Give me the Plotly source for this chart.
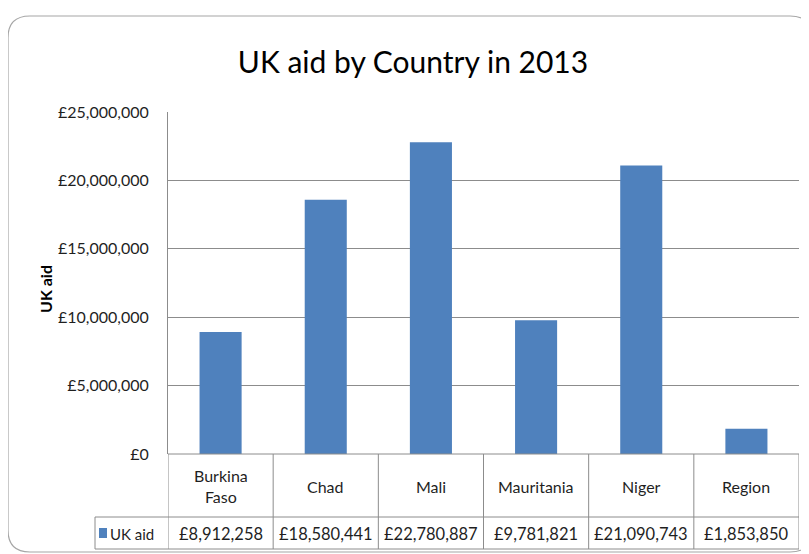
import plotly.graph_objects as go

categories = ["Burkina Faso", "Chad", "Mali", "Mauritania", "Niger", "Region"]
category_labels = ["Burkina<br>Faso", "Chad", "Mali", "Mauritania", "Niger", "Region"]
uk_aid = [8912258, 18580441, 22780887, 9781821, 21090743, 1853850]
y_ticks = [0, 5000000, 10000000, 15000000, 20000000, 25000000]
y_tick_labels = ["£0", "£5,000,000", "£10,000,000", "£15,000,000", "£20,000,000", "£25,000,000"]
series_name = "UK aid"
title_text = "UK aid by Country in 2013"

OFF = 8  # page body margin
W, H = 809 - OFF, 554 - OFF
P_LEFT, P_RIGHT, P_TOP, P_BOTTOM = 168, 799, 112, 454
ML = P_LEFT - OFF
MR = (W + OFF) - P_RIGHT
MT = P_TOP - OFF
MB = (H + OFF) - P_BOTTOM
PW = W - ML - MR
PH = H - MT - MB

def px(x):
    return (x - P_LEFT) / PW

def py(y):
    return (P_BOTTOM - y) / PH

FONT = "Lato, sans-serif"
BLUE = "#4F81BD"
LINE = "#8C8C8C"
TXT = "#1F1F1F"

fig = go.Figure()
fig.add_trace(go.Bar(x=categories, y=uk_aid, marker_color=BLUE, marker_line_width=0,
                     name=series_name, showlegend=False))

shapes = []
n = len(categories)
for i in range(n + 1):
    shapes.append(dict(type="line", xref="x", yref="paper", x0=i - 0.5, x1=i - 0.5,
                       y0=py(549), y1=0, line=dict(color=LINE, width=1)))
shapes.append(dict(type="line", xref="paper", yref="paper", x0=0, x1=1, y0=0, y1=0,
                   line=dict(color=LINE, width=1)))
for yy in (517, 549):
    shapes.append(dict(type="line", xref="paper", yref="paper", x0=px(95), x1=1,
                       y0=py(yy), y1=py(yy), line=dict(color=LINE, width=1)))
shapes.append(dict(type="line", xref="paper", yref="paper", x0=px(95), x1=px(95),
                   y0=py(549), y1=py(517), line=dict(color=LINE, width=1)))
shapes.append(dict(type="rect", xref="paper", yref="paper", x0=px(99), x1=px(107),
                   y0=py(538), y1=py(528), fillcolor=BLUE, line=dict(width=0)))
r = 22
x0, y0, x1, y1 = 8, 16, 812, 552
path = (f"M {px(x0)},{py(y0 + r)} Q {px(x0)},{py(y0)} {px(x0 + r)},{py(y0)} "
        f"L {px(x1 - r)},{py(y0)} Q {px(x1)},{py(y0)} {px(x1)},{py(y0 + r)} "
        f"L {px(x1)},{py(y1 - r)} Q {px(x1)},{py(y1)} {px(x1 - r)},{py(y1)} "
        f"L {px(x0 + r)},{py(y1)} Q {px(x0)},{py(y1)} {px(x0)},{py(y1 - r)} Z")
shapes.append(dict(type="path", xref="paper", yref="paper", path=path,
                   line=dict(color="#A6A6A6", width=1.2), layer="below"))

annotations = []
for c, lab, v in zip(categories, category_labels, uk_aid):
    annotations.append(dict(x=c, xref="x", yref="paper", y=py(486), text=lab,
                            showarrow=False, font=dict(family=FONT, size=16, color=TXT),
                            yanchor="middle", xanchor="center"))
    annotations.append(dict(x=c, xref="x", yref="paper", y=py(534), text=f"£{v:,}",
                            showarrow=False, font=dict(family=FONT, size=16.5, color=TXT),
                            yanchor="middle", xanchor="center"))
annotations.append(dict(x=px(108), xref="paper", yref="paper", y=py(534), text=series_name,
                        showarrow=False, font=dict(family=FONT, size=15, color=TXT),
                        xanchor="left", yanchor="middle"))
annotations.append(dict(x=px(45), xref="paper", yref="paper", y=py(289), text="<b>UK aid</b>",
                        textangle=-90, showarrow=False,
                        font=dict(family=FONT, size=16, color="#000000"),
                        xanchor="center", yanchor="middle"))

fig.update_layout(
    width=W, height=H,
    margin=dict(l=ML, r=MR, t=MT, b=MB, pad=0),
    paper_bgcolor="white", plot_bgcolor="white",
    title=dict(text=title_text, x=px(413), xanchor="center", xref="paper",
               y=1 - (62 - OFF) / H, yanchor="middle", yref="container",
               font=dict(family=FONT, size=30, color="#000000")),
    bargap=0.6,
    shapes=shapes,
    annotations=annotations,
    xaxis=dict(range=[-0.5, n - 0.5], showticklabels=False, showgrid=False, zeroline=False,
               showline=False, ticks=""),
    yaxis=dict(range=[0, 25000000], tickvals=y_ticks, ticktext=y_tick_labels,
               showgrid=True, gridcolor=LINE, gridwidth=1, zeroline=False,
               showline=True, linecolor=LINE, linewidth=1, ticks="",
               ticklabelstandoff=15,
               tickfont=dict(family=FONT, size=16, color=TXT)),
)

fig.write_html("out.html")
